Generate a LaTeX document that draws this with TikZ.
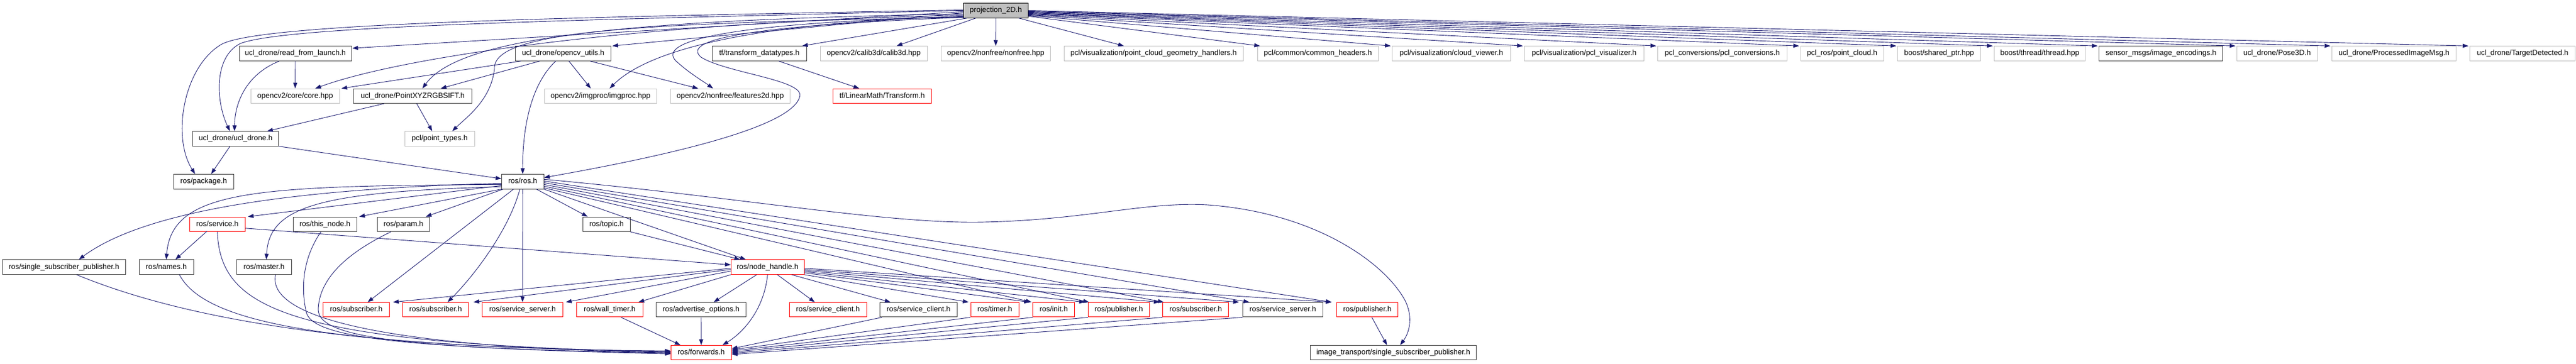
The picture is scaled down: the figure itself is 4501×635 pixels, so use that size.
\documentclass[tikz,border=0pt]{standalone}
\usepackage{fontspec}
\setmainfont{Liberation Sans}
\usetikzlibrary{arrows.meta,calc}
\definecolor{edgecol}{HTML}{191970}
\definecolor{grayb}{HTML}{BFBFBF}
\definecolor{blkb}{HTML}{404040}
\definecolor{redb}{HTML}{FF0000}
\tikzset{
  box/.style={rectangle, inner sep=0pt, minimum height=25.5pt, text height=9.5pt, text depth=2.6pt,
    font=\fontsize{13}{15}\selectfont, line width=1pt},
  blk/.style={box, draw=blkb},
  gry/.style={box, draw=grayb},
  rbox/.style={box, draw=redb},
  mainbox/.style={box, draw=black, fill=grayb},
  e/.style={draw=edgecol, line width=0.9pt, -{Triangle[length=10pt,width=7pt]}}
}
\begin{document}
\begin{tikzpicture}[x=1pt,y=-1pt]
\path[use as bounding box, fill=white] (0,0) rectangle (4501,635);

% ---------- nodes ----------
\node[mainbox, minimum width=113.4pt] (P) at (1740,18.4) {projection\_2D.h};

\node[blk, minimum width=196pt]   (rfl) at (516,93.5)    {ucl\_drone/read\_from\_launch.h};
\node[blk, minimum width=166.8pt] (ocu) at (984,93.5)    {ucl\_drone/opencv\_utils.h};
\node[blk, minimum width=164.6pt] (tfd) at (1326.7,93.5) {tf/transform\_datatypes.h};
\node[gry, minimum width=187.2pt] (c3d) at (1526.6,93.5) {opencv2/calib3d/calib3d.hpp};
\node[gry, minimum width=191.1pt] (nfr) at (1739.85,93.5) {opencv2/nonfree/nonfree.hpp};
\node[gry, minimum width=313.5pt] (pcg) at (2015.75,93.5) {pcl/visualization/point\_cloud\_geometry\_handlers.h};
\node[gry, minimum width=211.4pt] (pch) at (2302.7,93.5) {pcl/common/common\_headers.h};
\node[gry, minimum width=207pt]   (pcv) at (2536,93.5)   {pcl/visualization/cloud\_viewer.h};
\node[gry, minimum width=209.4pt] (pvz) at (2768,93.5)   {pcl/visualization/pcl\_visualizer.h};
\node[gry, minimum width=225.8pt] (pcc) at (3009.3,93.5) {pcl\_conversions/pcl\_conversions.h};
\node[gry, minimum width=145.4pt] (prp) at (3218.7,93.5) {pcl\_ros/point\_cloud.h};
\node[gry, minimum width=144.4pt] (bsp) at (3388.1,93.5) {boost/shared\_ptr.hpp};
\node[gry, minimum width=159.2pt] (btt) at (3564,93.5)   {boost/thread/thread.hpp};
\node[blk, minimum width=216.2pt] (sme) at (3775.8,93.5) {sensor\_msgs/image\_encodings.h};
\node[gry, minimum width=140.6pt] (p3d) at (3978.7,93.5) {ucl\_drone/Pose3D.h};
\node[gry, minimum width=217.5pt] (pim) at (4183,93.5)   {ucl\_drone/ProcessedImageMsg.h};
\node[gry, minimum width=184.4pt] (tdt) at (4407.7,93.5) {ucl\_drone/TargetDetected.h};

\node[gry, minimum width=154.4pt] (core) at (515.8,167.8) {opencv2/core/core.hpp};
\node[blk, minimum width=207.4pt] (pxs)  at (721.1,167.8) {ucl\_drone/PointXYZRGBSIFT.h};
\node[gry, minimum width=196.4pt] (imp)  at (1049.2,167.8) {opencv2/imgproc/imgproc.hpp};
\node[gry, minimum width=208.5pt] (f2d)  at (1276,167.8)  {opencv2/nonfree/features2d.hpp};
\node[rbox, minimum width=172.3pt] (ltr) at (1541.4,167.8) {tf/LinearMath/Transform.h};

\node[blk, minimum width=150pt]   (ucd) at (411.8,242.4) {ucl\_drone/ucl\_drone.h};
\node[gry, minimum width=121.7pt] (ptt) at (768.2,242.4) {pcl/point\_types.h};

\node[blk, minimum width=104.8pt] (pkg) at (355.9,317.3) {ros/package.h};
\node[blk, minimum width=73.5pt]  (ros) at (913.3,317.3) {ros/ros.h};

\node[rbox, minimum width=97.6pt] (srv) at (379.8,391.8) {ros/service.h};
\node[blk, minimum width=110.6pt] (thn) at (567.7,391.8) {ros/this\_node.h};
\node[blk, minimum width=91.1pt]  (prm) at (705,391.8)   {ros/param.h};
\node[blk, minimum width=82.5pt]  (tpc) at (1059.8,391.8) {ros/topic.h};

\node[blk, minimum width=215.1pt] (ssp) at (111.8,466.7) {ros/single\_subscriber\_publisher.h};
\node[blk, minimum width=95pt]    (nms) at (290.5,466.7) {ros/names.h};
\node[blk, minimum width=95.3pt]  (mst) at (461.4,466.7) {ros/master.h};
\node[rbox, minimum width=127.7pt] (nh) at (1341.2,466.7) {ros/node\_handle.h};

\node[rbox, minimum width=115.6pt] (sb1) at (622.4,541.2)  {ros/subscriber.h};
\node[rbox, minimum width=115.2pt] (sb2) at (761.1,541.2)  {ros/subscriber.h};
\node[rbox, minimum width=140.5pt] (ssr) at (913,541.2)    {ros/service\_server.h};
\node[rbox, minimum width=115.6pt] (wtm) at (1065.2,541.2) {ros/wall\_timer.h};
\node[blk,  minimum width=157.3pt] (adv) at (1225,541.2)   {ros/advertise\_options.h};
\node[rbox, minimum width=135.2pt] (scr) at (1446.6,541.2) {ros/service\_client.h};
\node[blk,  minimum width=135.1pt] (scb) at (1605,541.2)   {ros/service\_client.h};
\node[rbox, minimum width=84.6pt]  (tmr) at (1738.3,541.2) {ros/timer.h};
\node[rbox, minimum width=72.5pt]  (ini) at (1841.2,541.2) {ros/init.h};
\node[rbox, minimum width=107.1pt] (pb1) at (1954.8,541.2) {ros/publisher.h};
\node[rbox, minimum width=115.2pt] (sb3) at (2089.3,541.2) {ros/subscriber.h};
\node[blk,  minimum width=140.2pt] (ssb) at (2241.5,541.2) {ros/service\_server.h};
\node[rbox, minimum width=107.5pt] (pb2) at (2389,541.2)   {ros/publisher.h};

\node[rbox, minimum width=105.6pt] (fwd) at (1225.2,616.2) {ros/forwards.h};
\node[blk,  minimum width=290.8pt] (its) at (2434.4,616.2) {image\_transport/single\_subscriber\_publisher.h};

% ---------- edges from projection_2D.h ----------
\draw[e] (P.south) -- (nfr.north);
\draw[e] ($(P.south)+(-35,0)$) -- ($(c3d.north)+(40,0)$);
\draw[e] ($(P.south west)+(7,0)$) -- ($(tfd.north east)+(-8,0)$);
\draw[e] ($(P.south)+(40,0)$) -- ($(pcg.north)+(-52,0)$);
\draw[e] ($(P.east)+(0,10)$) -- ($(pch.north west)+(5,0)$);
\draw[e] ($(P.east)+(0,9)$) -- ($(pcv.north west)+(-2,0)$);
\draw[e] ($(P.east)+(0,8)$) -- ($(pvz.north west)+(-2,0)$);
\draw[e] ($(P.east)+(0,7)$) -- ($(pcc.north west)+(-2,0)$);
\draw[e] ($(P.east)+(0,6)$) -- ($(prp.north west)+(-2,0)$);
\draw[e] ($(P.east)+(0,5)$) -- ($(bsp.north west)+(-2,0)$);
\draw[e] ($(P.east)+(0,4)$) -- ($(btt.north west)+(-2,0)$);
\draw[e] ($(P.east)+(0,3)$) -- ($(sme.north west)+(-2,0)$);
\draw[e] ($(P.east)+(0,2)$) -- ($(p3d.north west)+(-2,0)$);
\draw[e] ($(P.east)+(0,1)$) -- ($(pim.north west)+(-2,0)$);
\draw[e] ($(P.east)+(0,0)$) -- ($(tdt.north west)+(-2,0)$);

\draw[e] ($(P.west)+(0,2)$) -- ($(rfl.north east)+(1,4)$);
\draw[e] ($(P.west)+(0,4)$) -- ($(ocu.north east)+(2,0)$);
\draw[e] ($(P.west)+(0,8)$) .. controls (1100,40) and (700,100) .. ($(core.north)+(35,0)$);
\draw[e] ($(P.west)+(0,6)$) .. controls (1050,35) and (800,70) .. ($(pxs.north)+(17,0)$);
\draw[e] ($(P.west)+(0,10)$) .. controls (1300,40) and (1130,90) .. ($(imp.north)+(16,0)$);
\draw[e] ($(P.west)+(0,12)$) .. controls (1150,40) and (860,50) .. (864,120)
          .. controls (858,175) and (815,205) .. ($(ptt.north)+(22,0)$);
\draw[e] ($(P.west)+(0,11)$) .. controls (1250,40) and (1140,75) .. (1185,110)
          .. controls (1205,128) and (1230,143) .. ($(f2d.north)+(-30,0)$);
\draw[e] ($(P.west)+(0,12)$) .. controls (1300,45) and (1190,70) .. (1225,100)
          .. controls (1270,128) and (1410,140) .. (1397,170)
          .. controls (1380,225) and (1150,275) .. ($(ros.east)+(0,-7)$);
\draw[e] ($(P.west)+(0,0)$) .. controls (1000,35) and (500,45) .. (420,76)
          .. controls (372,100) and (378,180) .. ($(ucd.north)+(-10,0)$);
\draw[e] ($(P.west)+(0,-1)$) .. controls (1000,30) and (450,40) .. (386,78)
          .. controls (320,118) and (300,240) .. ($(pkg.north)+(-15,0)$);

% ---------- second level ----------
\draw[e] (rfl.south) -- (core.north);
\draw[e] ($(rfl.south)+(-28,0)$) .. controls (430,130) and (410,180) .. ($(ucd.north)+(-2,0)$);

\draw[e] ($(ocu.south)+(-74,0)$) -- ($(core.north east)+(3,0)$);
\draw[e] ($(ocu.south)+(-41,0)$) -- ($(pxs.north)+(49,0)$);
\draw[e] ($(ocu.south)+(10,0)$) -- ($(imp.north)+(-17,0)$);
\draw[e] ($(ocu.south)+(-13,0)$) .. controls (925,150) and (913,230) .. (ros.north);
\draw[e] ($(ocu.south)+(47,0)$) -- ($(f2d.north)+(-56,0)$);

\draw[e] ($(pxs.south)+(-50,0)$) -- ($(ucd.north)+(55,0)$);
\draw[e] ($(pxs.south)+(7,0)$) -- ($(ptt.north)+(-13,0)$);

\draw[e] ($(ucd.south)+(-10,0)$) -- ($(pkg.north)+(13,0)$);
\draw[e] (ucd.south east) -- ($(ros.west)+(0,-5)$);

\draw[e] ($(tfd.south)+(34,0)$) -- ($(ltr.north)+(-40,0)$);

% ---------- from ros/ros.h ----------
\draw[e] ($(ros.west)+(0,3)$) .. controls (500,330) and (250,370) .. ($(ssp.north)+(26,0)$);
\draw[e] ($(ros.west)+(0,5)$) .. controls (450,325) and (300,330) .. (nms.north);
\draw[e] ($(ros.west)+(0,7)$) -- ($(srv.north east)+(4,0)$);
\draw[e] ($(ros.west)+(0,9)$) .. controls (560,335) and (470,360) .. ($(mst.north)+(4,0)$);
\draw[e] (ros.south west) -- ($(thn.north east)+(4,0)$);
\draw[e] ($(ros.south west)+(3,0)$) -- ($(prm.north)+(39,0)$);
\draw[e] ($(ros.south)+(24,0)$) -- ($(tpc.north)+(-33,0)$);
\draw[e] ($(ros.south)+(-16,0)$) -- ($(sb1.north)+(20,0)$);
\draw[e] ($(ros.south)+(-5,0)$) .. controls (890,400) and (830,480) .. ($(sb2.north)+(21,0)$);
\draw[e] (ros.south) -- (ssr.north);
\draw[e] (ros.south east) -- ($(nh.north)+(-38,0)$);
\draw[e] ($(ros.east)+(0,-1)$) -- ($(pb2.north west)+(-8,0)$);
\draw[e] ($(ros.east)+(0,2)$) -- ($(ssb.north west)+(12,0)$);
\draw[e] ($(ros.east)+(0,5)$) -- ($(sb3.north west)+(2,0)$);
\draw[e] ($(ros.east)+(0,8)$) -- ($(pb1.north west)+(2,0)$);
\draw[e] ($(ros.east)+(0,11)$) -- ($(ini.north west)+(-2,0)$);
\draw[e] ($(ros.east)+(0,-4)$) .. controls (1300,345) and (1550,392) .. (1720,388)
          .. controls (1900,384) and (2000,352) .. (2110,358)
          .. controls (2300,372) and (2420,460) .. (2455,525)
          .. controls (2470,555) and (2462,582) .. ($(its.north)+(12,0)$);

\draw[e] (tpc.south east) -- ($(nh.north)+(-48,0)$);
\draw[e] ($(srv.east)+(0,7)$) -- ($(nh.west)+(0,-4)$);
\draw[e] ($(srv.north west)+(31,25.5)$) -- ($(nms.north)+(16,0)$);

% ---------- from ros/node_handle.h ----------
\draw[e] ($(nh.west)+(0,2)$) -- ($(sb1.north east)+(6,0)$);
\draw[e] ($(nh.west)+(0,4)$) -- ($(sb2.north east)+(8,0)$);
\draw[e] ($(nh.west)+(0,7)$) -- ($(ssr.north east)+(5,0)$);
\draw[e] (nh.south west) -- ($(wtm.north east)+(-8,0)$);
\draw[e] ($(nh.south)+(-19,0)$) -- ($(adv.north)+(22,0)$);
\draw[e] (nh.south) .. controls (1335,540) and (1300,580) .. ($(fwd.north east)+(-16,0)$);
\draw[e] ($(nh.south)+(17,0)$) -- ($(scr.north)+(-23,0)$);
\draw[e] ($(nh.south)+(42,0)$) -- ($(scb.north west)+(19,0)$);
\draw[e] (nh.south east) -- ($(tmr.north west)+(-3,0)$);
\draw[e] ($(nh.east)+(0,10)$) -- ($(ini.north west)+(-5,0)$);
\draw[e] ($(nh.east)+(0,8)$) -- ($(pb1.north west)+(-5,0)$);
\draw[e] ($(nh.east)+(0,6)$) -- ($(sb3.north west)+(-5,0)$);
\draw[e] ($(nh.east)+(0,4)$) -- ($(ssb.north west)+(-6,0)$);
\draw[e] ($(nh.east)+(0,2)$) -- ($(pb2.north west)+(-8,0)$);

% ---------- into ros/forwards.h ----------
\draw[e] ($(ssp.south)+(22,0)$) .. controls (400,590) and (800,610) .. ($(fwd.west)+(0,-3)$);
\draw[e] ($(nms.south)+(23,0)$) .. controls (360,570) and (600,605) .. ($(fwd.west)+(0,-2)$);
\draw[e] (srv.south) .. controls (385,540) and (500,600) .. ($(fwd.west)+(0,-1)$);
\draw[e] ($(mst.south)+(20,0)$) .. controls (465,560) and (700,608) .. ($(fwd.west)+(0,0)$);
\draw[e] ($(thn.south)+(-7,0)$) .. controls (530,450) and (525,500) .. (535,545)
          .. controls (545,590) and (700,608) .. ($(fwd.west)+(0,1)$);
\draw[e] ($(prm.south)+(-22,0)$) .. controls (600,445) and (558,490) .. (556,540)
          .. controls (555,590) and (700,608) .. ($(fwd.west)+(0,2)$);
\draw[e] ($(wtm.south)+(20,0)$) -- ($(fwd.north west)+(17,0)$);
\draw[e] (adv.south) -- (fwd.north);
\draw[e] ($(scb.south west)+(4,0)$) -- ($(fwd.east)+(0,-7)$);
\draw[e] (tmr.south west) -- ($(fwd.east)+(0,-5)$);
\draw[e] (ini.south west) -- ($(fwd.east)+(0,-3)$);
\draw[e] (pb1.south west) -- ($(fwd.east)+(0,-1)$);
\draw[e] (sb3.south west) -- ($(fwd.east)+(0,1)$);
\draw[e] (ssb.south west) -- ($(fwd.east)+(0,3)$);

\draw[e] ($(pb2.south)+(8,0)$) -- ($(its.north)+(-11,0)$);
\end{tikzpicture}
\end{document}
